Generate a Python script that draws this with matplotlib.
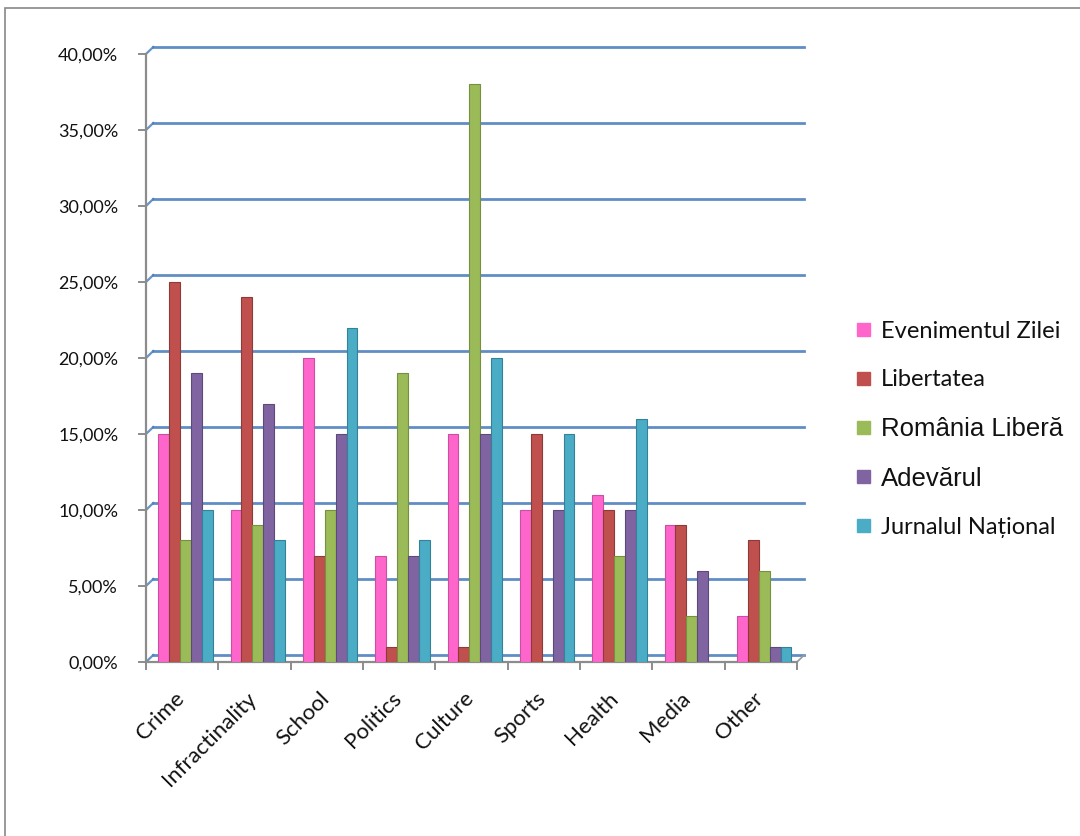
import matplotlib
matplotlib.use("Agg")
import matplotlib.pyplot as plt
import numpy as np
from matplotlib.patches import Rectangle

categories = ["Crime", "Infractinality", "School", "Politics", "Culture",
              "Sports", "Health", "Media", "Other"]
series_names = ["Evenimentul Zilei", "Libertatea", "România Liberă",
                "Adevărul", "Jurnalul Național"]
evenimentul = [15, 10, 20, 7, 15, 10, 11, 9, 3]
libertatea = [25, 24, 7, 1, 1, 15, 10, 9, 8]
romania_libera = [8, 9, 10, 19, 38, 0, 7, 3, 6]
adevarul = [19, 17, 15, 7, 15, 10, 10, 6, 1]
jurnalul = [10, 8, 22, 8, 20, 15, 16, 0, 1]
yticks = [0, 5, 10, 15, 20, 25, 30, 35, 40]
ytick_labels = ["0,00%", "5,00%", "10,00%", "15,00%", "20,00%", "25,00%",
                "30,00%", "35,00%", "40,00%"]

series = [evenimentul, libertatea, romania_libera, adevarul, jurnalul]
colors = ["#FF66CC", "#C0504D", "#9BBB59", "#8064A2", "#4BACC6"]
edges = ["#C94FA0", "#8E3A38", "#76903F", "#5E4A79", "#358197"]

W, H = 1080, 836
fig = plt.figure(figsize=(W / 100, H / 100), dpi=100)
ax = fig.add_axes([146 / W, 1 - 662 / H, (797 - 146) / W, (662 - 54) / H])

x = np.arange(len(categories))
bw = 0.151
for i, (vals, c, ec) in enumerate(zip(series, colors, edges)):
    ax.bar(x + 0.046 + (i - 2) * bw, vals, width=bw, color=c, edgecolor=ec,
           linewidth=0.8, zorder=3)

ax.set_xlim(-0.5, len(categories) - 0.5)
ax.set_ylim(0, 40)

# gridlines on back wall with 3D slant
grid_c = "#4F81BD"
d = 0.46
dx = 0.10
for yv in yticks:
    ax.plot([-0.5, -0.5 + dx], [yv, yv + d], color=grid_c, lw=1.6, clip_on=False, zorder=1, alpha=0.85)
    ax.plot([-0.5 + dx, len(categories) - 0.5 + dx], [yv + d, yv + d], color=grid_c,
            lw=2.0, clip_on=False, zorder=1, alpha=0.9)
ax.plot([len(categories) - 0.5, len(categories) - 0.5 + dx], [0, d], color="#999999",
        lw=1.2, clip_on=False, zorder=1)

for s in ["top", "right"]:
    ax.spines[s].set_visible(False)
for s in ["left", "bottom"]:
    ax.spines[s].set_color("#8C8C8C")
    ax.spines[s].set_linewidth(1.6)

ax.set_yticks(yticks)
ax.set_yticklabels(ytick_labels, fontfamily="Lato", fontsize=13, color="#111111")
ax.tick_params(axis="y", length=6, width=1.4, color="#8C8C8C", pad=14)

ax.set_xticks(np.arange(len(categories) + 1) - 0.5)
ax.set_xticklabels([])
ax.tick_params(axis="x", which="major", length=6, width=1.4, color="#8C8C8C")
ax.set_xticks(x - 0.11, minor=True)
ax.set_xticklabels(categories, minor=True, rotation=45, ha="right",
                   rotation_mode="anchor", fontfamily="Lato", fontsize=16, color="#111111")
ax.tick_params(axis="x", which="minor", length=0, pad=19)

# legend, placed by hand in figure pixels
leg_fonts = [("Lato", 17), ("Lato", 17), ("Liberation Sans", 18.5),
             ("Liberation Sans", 18.5), ("Lato", 17)]
for i, (name, c) in enumerate(zip(series_names, colors)):
    yc = 329 + i * 49
    fig.patches.append(Rectangle((857 / W, 1 - (yc + 6.5) / H), 13 / W, 13 / H,
                                 transform=fig.transFigure, color=c))
    fam, sz = leg_fonts[i]
    fig.text(881 / W, 1 - yc / H, name, fontfamily=fam, fontsize=sz,
             va="center_baseline", ha="left", color="#111111")

# outer border
fig.patches.append(Rectangle((5 / W, -0.05), 1.1, 1 - 8 / H + 0.05, transform=fig.transFigure,
                             fill=False, edgecolor="#888888", linewidth=1.2))

fig.savefig("out.png", dpi=100)
